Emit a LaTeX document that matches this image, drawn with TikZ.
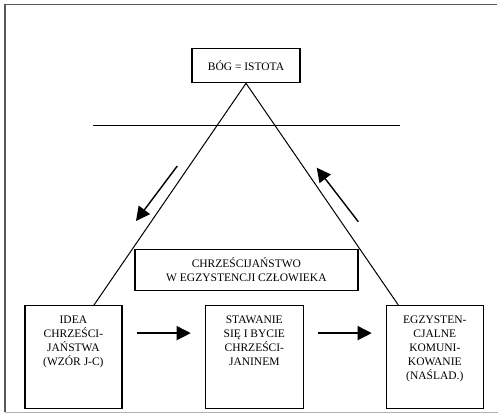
\documentclass[tikz,border=0pt]{standalone}
\usepackage{fontspec}
\setmainfont{Liberation Serif}
\usetikzlibrary{positioning,arrows.meta}

\begin{document}
\begin{tikzpicture}[x=1pt,y=-1pt,
    every node/.style={font=\fontsize{11.5}{14}\selectfont},
    framebox/.style={draw,line width=1.2pt,inner sep=0pt},
    stage/.style={framebox,minimum width=97pt,minimum height=103pt,anchor=north west},
    stagetext/.style={align=center,inner sep=0pt},
    side/.style={line width=1pt},
    flow/.style={line width=1.4pt,-{Triangle[length=14pt,width=14pt]}}]
  \useasboundingbox (0,0) rectangle (498,413);
  % frame of the page
  \draw[line width=1.5pt,black!65] (5,412) -- (5,4.7) -- (497,4.7);
  \draw[line width=1pt,black!30] (5,412) -- (498,412);

  % boxes
  \node[framebox,minimum width=108pt,minimum height=34.4pt] (bog) at (246,65.5) {BÓG = ISTOTA};
  \node[framebox,minimum width=223pt,minimum height=41.4pt,align=center,fill=white] (chrz) at (246.4,270) {CHRZEŚCIJAŃSTWO\\W EGZYSTENCJI CZŁOWIEKA};
  \node[stage] (idea) at (24.3,305) {};
  \node[stage,minimum width=98pt] (stand) at (204.7,305) {};
  \node[stage] (komun) at (385.7,305) {};
  \node[stagetext,below=11pt of idea.north] (ideatxt) {IDEA\\CHRZEŚCI-\\JAŃSTWA\\(WZÓR J-C)};
  \node[stagetext,below=11pt of stand.north] (standtxt) {STAWANIE\\SIĘ I BYCIE\\CHRZEŚCI-\\JANINEM};
  \node[stagetext,below=11pt of komun.north] (komuntxt) {EGZYSTEN-\\CJALNE\\KOMUNI-\\KOWANIE\\(NAŚLAD.)};

  % triangle and line
  \coordinate (lfoot) at (94,305);
  \coordinate (rfoot) at (398.3,305);
  \draw[side] (lfoot) -- (bog.south) -- (rfoot);
  \coordinate (hleft) at (93,125);
  \coordinate (hright) at (400,125);
  \draw[side] (hleft) -- (hright);

  % arrows
  \coordinate (down1) at (177.3,166);
  \coordinate (down2) at (136,221);
  \coordinate (up1) at (358.3,221.7);
  \coordinate (up2) at (316.7,167.7);
  \draw[flow] (down1) -- (down2);
  \draw[flow] (up1) -- (up2);
  \draw[flow,shorten <=14pt,shorten >=14pt] ([yshift=24pt]idea.east) -- ([yshift=24pt]stand.west);
  \draw[flow,shorten <=14pt,shorten >=14pt] ([yshift=24pt]stand.east) -- ([yshift=24pt]komun.west);
\end{tikzpicture}
\end{document}
